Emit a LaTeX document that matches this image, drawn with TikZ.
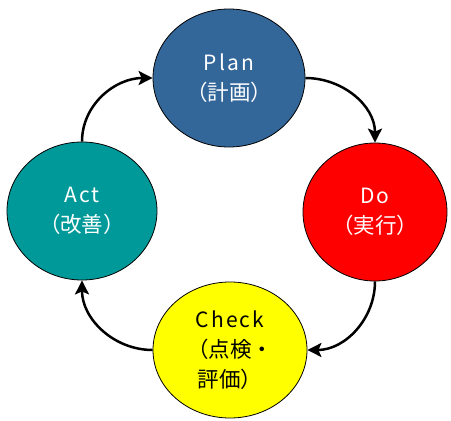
\documentclass[tikz,border=0pt]{standalone}
\usepackage{fontspec}
\setmainfont{Noto Sans CJK JP}
\newfontfamily\latinsp[LetterSpace=10]{Noto Sans CJK JP}
\usetikzlibrary{shapes.geometric,arrows.meta}
\definecolor{planblue}{RGB}{51,102,153}
\definecolor{doRed}{RGB}{255,0,0}
\definecolor{actteal}{RGB}{0,153,153}
\definecolor{checkyellow}{RGB}{255,255,0}
\newcommand{\lat}[1]{{\latinsp\fontsize{21}{30}\selectfont #1}}
\tikzset{
  phase/.style={ellipse, draw=black, line width=0.8pt, inner sep=0pt, align=center,
    font=\fontsize{21.5}{30}\selectfont},
  cyc/.style={line width=2.5pt, -{Stealth[length=14pt,width=14pt,inset=3pt]}}
}
\begin{document}
\begin{tikzpicture}[x=1pt,y=-1pt]
\useasboundingbox (0,0) rectangle (451,421);
\node[phase, fill=planblue, text=white, minimum width=152pt, minimum height=138pt] (plan) at (229,78) {\lat{Plan}\\（計画）};
\node[phase, fill=doRed, text=white, minimum width=144pt, minimum height=138pt] (do) at (375,212) {\lat{Do}\\（実行）};
\node[phase, fill=checkyellow, text=black, minimum width=154pt, minimum height=136pt] (check) at (230,350) {\lat{Check}\\（点検・\\評価）};
\node[phase, fill=actteal, text=white, minimum width=150pt, minimum height=138pt] (act) at (82,211) {\lat{Act}\\（改善）};
\draw[cyc] (plan.east) to[out=0,in=90] (do.north);
\draw[cyc] (do.south) to[out=-90,in=0] (check.east);
\draw[cyc] (check.west) to[out=180,in=-90] (act.south);
\draw[cyc] (act.north) to[out=90,in=180] (plan.west);
\end{tikzpicture}
\end{document}
